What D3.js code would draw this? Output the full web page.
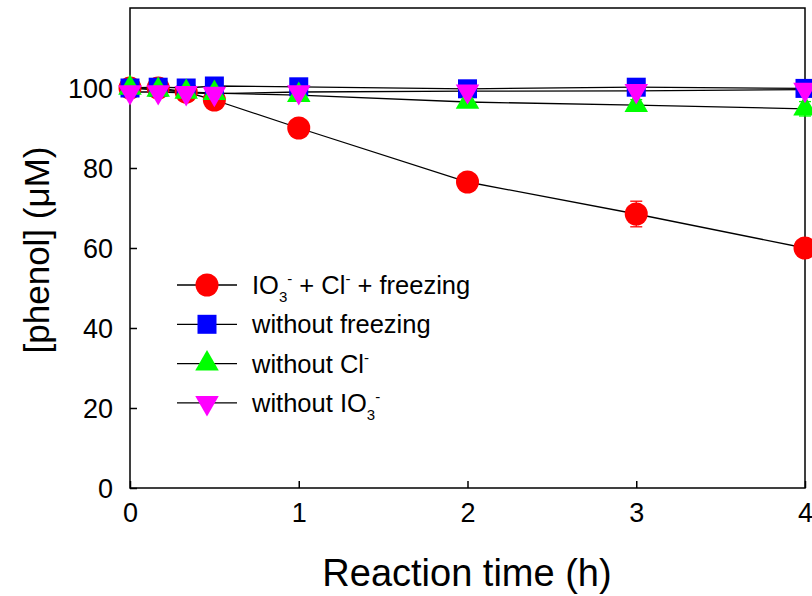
<!DOCTYPE html>
<html>
<head>
<meta charset="utf-8">
<script src="https://cdn.jsdelivr.net/npm/d3@7"></script>
<style>
  body { margin: 0; background: #fff; }
  svg text { font-family: "Liberation Sans", Arial, sans-serif; }
</style>
</head>
<body>
<div id="chart-area"></div>
<script>
// Data
const times = [0, 0.167, 0.333, 0.5, 1, 2, 3, 4];
const withFreezing = [100, 100, 99, 97, 90, 76.5, 68.5, 60];
const withFreezingErr = [0, 0, 0, 0, 0, 0, 3.2, 0];
const noFreezing = [100, 100.2, 100, 100.5, 100.3, 99.8, 100.2, 99.9];
const noFreezingErr = [0, 0, 0, 0, 0, 0, 0, 0];
const noCl = [100, 99.5, 99, 98.7, 98.2, 96.5, 95.7, 94.8];
const noClErr = [0, 0, 0, 0, 0, 0, 1.4, 1.8];
const noIO3 = [99, 99, 98.8, 98.6, 99, 99.2, 99.3, 99.6];
const noIO3Err = [0, 0, 0, 0, 0, 0, 0, 0];
const xTicks = [0, 1, 2, 3, 4];
const yTicks = [0, 20, 40, 60, 80, 100];

const series = [
  {name: "freeze", vals: withFreezing, err: withFreezingErr, color: "#ff0000", shape: "circle"},
  {name: "nofreeze", vals: noFreezing, err: noFreezingErr, color: "#0000ff", shape: "square"},
  {name: "nocl", vals: noCl, err: noClErr, color: "#00ff00", shape: "up"},
  {name: "noio3", vals: noIO3, err: noIO3Err, color: "#ff00ff", shape: "down"}
];

const margin = {left: 130, right: 7, top: 8, bottom: 108},
  width = 812 - margin.left - margin.right,
  height = 596 - margin.top - margin.bottom;

const svg = d3.select("#chart-area").append("svg")
  .attr("width", 812)
  .attr("height", 596);

const g = svg.append("g")
  .attr("transform", "translate(" + margin.left + "," + margin.top + ")");

const x = d3.scaleLinear().domain([0, 4]).range([0, width]);
const y = d3.scaleLinear().domain([0, 120]).range([height, 0]);

// Axes with inward ticks
const xAxis = g.append("g")
  .attr("transform", "translate(0," + height + ")")
  .call(d3.axisBottom(x).tickValues(xTicks).tickFormat(d3.format("d"))
    .tickSizeInner(-7).tickSizeOuter(0).tickPadding(15));
const yAxis = g.append("g")
  .call(d3.axisLeft(y).tickValues(yTicks).tickFormat(d3.format("d"))
    .tickSizeInner(-7).tickSizeOuter(0).tickPadding(17));

[xAxis, yAxis].forEach(a => {
  a.select(".domain").remove();
  a.selectAll("line").attr("stroke", "#000").attr("stroke-width", 1.5);
  a.selectAll("text").attr("font-size", 27).attr("fill", "#000")
    .attr("font-family", "Liberation Sans, Arial, sans-serif");
});
yAxis.selectAll("text").attr("dy", "0.35em");

// frame
g.append("rect")
  .attr("width", width)
  .attr("height", height)
  .attr("fill", "none")
  .attr("stroke", "#000")
  .attr("stroke-width", 1.5);

const symbolFor = {
  circle: d3.symbol().type(d3.symbolCircle).size(Math.PI * 11.5 * 11.5),
  square: d3.symbol().type(d3.symbolSquare).size(19 * 19),
  up: d3.symbol().type(d3.symbolTriangle).size(240),
  down: d3.symbol().type(d3.symbolTriangle).size(240)
};

const line = d3.line()
  .x((d, i) => x(times[i]))
  .y(d => y(d));

// lines first
series.forEach(s => {
  g.append("path")
    .attr("fill", "none")
    .attr("stroke", "#000")
    .attr("stroke-width", 1.3)
    .attr("d", line(s.vals));
});

// error bars and markers
series.forEach(s => {
  const eb = g.append("g");
  s.vals.forEach((v, i) => {
    if (!s.err[i]) return;
    const cx = x(times[i]);
    eb.append("line").attr("x1", cx).attr("x2", cx)
      .attr("y1", y(v - s.err[i])).attr("y2", y(v + s.err[i]))
      .attr("stroke", s.color).attr("stroke-width", 1.3);
    [v - s.err[i], v + s.err[i]].forEach(e => {
      eb.append("line").attr("x1", cx - 6).attr("x2", cx + 6)
        .attr("y1", y(e)).attr("y2", y(e))
        .attr("stroke", s.color).attr("stroke-width", 1.3);
    });
  });
  g.selectAll(".m-" + s.name)
    .data(s.vals)
    .join("path")
    .attr("class", "m-" + s.name)
    .attr("d", symbolFor[s.shape])
    .attr("fill", s.color)
    .attr("transform", (d, i) => "translate(" + x(times[i]) + "," + y(d) + ")" +
      (s.shape === "down" ? " rotate(180)" : ""));
});

// Legend (0 = normal, 1 = subscript, 2 = superscript)
const legend = svg.append("g").attr("transform", "translate(177,285)");
const legendRows = [
  {s: series[0], parts: [["IO", 0], ["3", 1], ["-", 2], [" + Cl", 0], ["-", 2], [" + freezing", 0]]},
  {s: series[1], parts: [["without freezing", 0]]},
  {s: series[2], parts: [["without Cl", 0], ["-", 2]]},
  {s: series[3], parts: [["without IO", 0], ["3", 1], ["-", 2]]}
];
const shiftFor = [0, 8, -10];
legendRows.forEach((r, k) => {
  const row = legend.append("g").attr("transform", "translate(0," + (k * 39.3) + ")");
  row.append("line").attr("x1", 0).attr("x2", 60)
    .attr("stroke", "#000").attr("stroke-width", 1.3);
  row.append("path")
    .attr("d", symbolFor[r.s.shape])
    .attr("fill", r.s.color)
    .attr("transform", "translate(30,0)" + (r.s.shape === "down" ? " rotate(180)" : ""));
  const t = row.append("text").attr("x", 75).attr("y", 9)
    .attr("font-size", 25.5).attr("fill", "#000");
  let off = 0;
  r.parts.forEach(p => {
    const want = shiftFor[p[1]];
    t.append("tspan")
      .attr("dy", want - off)
      .attr("font-size", p[1] ? 15 : 25.5)
      .text(p[0]);
    off = want;
  });
});

// Axis titles
svg.append("text")
  .attr("x", 467)
  .attr("y", 586)
  .attr("text-anchor", "middle")
  .attr("font-size", 38)
  .attr("fill", "#000")
  .text("Reaction time (h)");

svg.append("text")
  .attr("transform", "translate(49,250) rotate(-90)")
  .attr("text-anchor", "middle")
  .attr("font-size", 35)
  .attr("fill", "#000")
  .text("[phenol] (\u03bcM)");
</script>
</body>
</html>
